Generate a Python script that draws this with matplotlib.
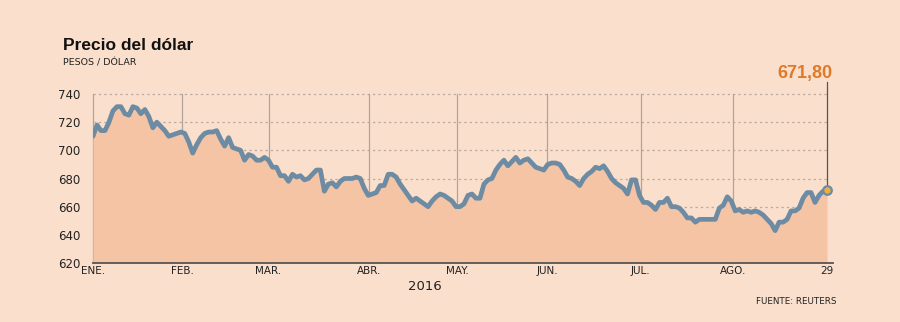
import matplotlib
matplotlib.use("Agg")
import matplotlib.pyplot as plt
import numpy as np

# ---- data ----
values = [
    710, 718, 714, 714, 720, 728, 731, 731, 726, 725, 731, 730, 726, 729, 724, 716, 720, 717, 714, 710,
    711, 712, 713, 712, 706, 698, 704, 709, 712, 713, 713, 714, 708, 703, 709, 702, 701, 700, 693, 697,
    696, 693, 693, 695, 693, 688, 688, 682, 682, 678, 683, 681, 682, 679, 680, 683, 686, 686, 671, 676,
    677, 674, 678, 680, 680, 680, 681, 680, 673, 668, 669, 670, 675, 675, 683, 683, 681, 676, 672, 668,
    664, 666, 664, 662, 660, 664, 667, 669, 668, 666, 664, 660, 660, 662, 668, 669, 666, 666, 676, 679,
    680, 686, 690, 693, 689, 692, 695, 691, 693, 694, 691, 688, 687, 686, 690, 691, 691, 690, 686, 681,
    680, 678, 675, 680, 683, 685, 688, 687, 689, 685, 680, 677, 675, 673, 669, 679, 679, 668, 663, 663,
    661, 658, 663, 663, 666, 660, 660, 659, 656, 652, 652, 649, 651, 651, 651, 651, 651, 659, 661, 667,
    664, 657, 658, 656, 657, 656, 657, 656, 654, 651, 648, 643, 649, 649, 651, 657, 657, 659, 666, 670,
    670, 663, 668, 671, 671.8,
]
month_labels = ["ENE.", "FEB.", "MAR.", "ABR.", "MAY.", "JUN.", "JUL.", "AGO.", "29"]
month_pos = [0, 22.3, 44.0, 69.1, 91.3, 113.9, 137.3, 160.4, 184]
y_ticks = [620, 640, 660, 680, 700, 720, 740]
last_label = "671,80"

# ---- style ----
BG = "#FADFCC"
FILL = "#F4C4A5"
LINE = "#6D8BA3"
ORANGE = "#E07A28"

x = np.arange(len(values))

fig = plt.figure(figsize=(9, 3.22), dpi=100, facecolor=BG)
ax = fig.add_axes([93 / 900, 1 - 263 / 322, 734 / 900, 169 / 322])
ax.set_facecolor(BG)
ax.set_xlim(0, len(values) - 1)
ax.set_ylim(620, 740)

for s in ax.spines.values():
    s.set_visible(False)

# horizontal dotted gridlines
for yv in y_ticks[1:]:
    ax.plot([0, len(values) - 1], [yv, yv], color="#B8AAA0", lw=0.9,
            ls=(0, (1.8, 2.5)), zorder=1, clip_on=False)

# vertical month lines
for p in month_pos[:-1]:
    ax.plot([p, p], [620, 740], color="#AFA49D", lw=0.9, zorder=1, clip_on=False)

ax.fill_between(x, values, 620, color=FILL, zorder=2, lw=0)
ax.plot(x, values, color=LINE, lw=3.4, zorder=3, solid_joinstyle="round",
        solid_capstyle="round")

# bottom axis line
ax.plot([0, len(values) + 0.5], [620, 620], color="#5A5550", lw=1.3,
        zorder=4, clip_on=False)

# end marker and annotation
ax.plot([x[-1], x[-1]], [values[-1], 748.5], color="#5A5550", lw=0.9,
        zorder=2, clip_on=False)
ax.scatter([x[-1]], [values[-1]], s=38, color="#F2AE3C", edgecolor=LINE,
           linewidth=1.6, zorder=5, clip_on=False)
ax.text(x[-1] + 1.3, 754.5, last_label, color=ORANGE, fontsize=13,
        fontweight="bold", ha="right", va="center", family="Liberation Sans")

ax.set_yticks(y_ticks)
ax.set_yticklabels([str(v) for v in y_ticks], fontsize=8.5, color="#222222")
ax.set_xticks(month_pos)
ax.set_xticklabels(month_labels, fontsize=7.5, color="#222222")
ax.tick_params(axis="both", length=0)
ax.tick_params(axis="y", pad=9)
ax.tick_params(axis="x", pad=2)

fig.text(63 / 900, 1 - 46 / 322, "Precio del dólar", fontsize=12.5,
         fontweight="bold", color="#111111", va="center", ha="left",
         family="Liberation Sans")
fig.text(63 / 900, 1 - 63 / 322, "PESOS / DÓLAR", fontsize=6.8, color="#222222",
         va="center", ha="left")
fig.text(425 / 900, 1 - 287 / 322, "2016", fontsize=9.5, color="#222222",
         va="center", ha="center")
fig.text(837 / 900, 1 - 302 / 322, "FUENTE: REUTERS", fontsize=6.3,
         color="#222222", va="center", ha="right")

fig.savefig("out.png", dpi=100, facecolor=BG)
